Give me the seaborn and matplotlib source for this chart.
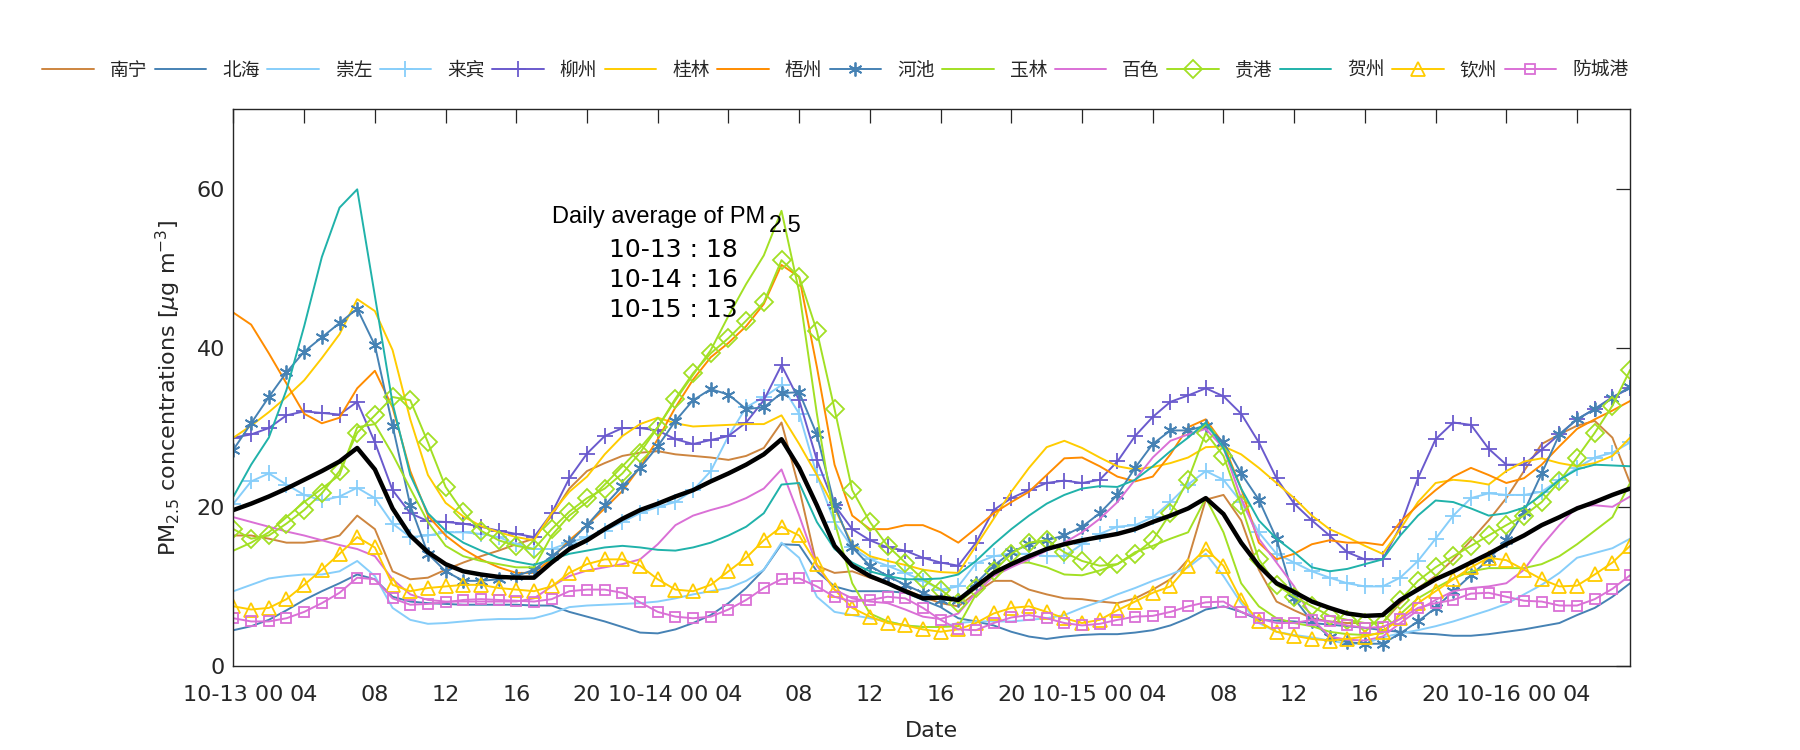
import numpy as np
import pandas as pd
import matplotlib
matplotlib.use("Agg")
import matplotlib.pyplot as plt
import seaborn as sns

hours = list(range(80))

nanning = [16.4,16.4,16.0,15.5,15.5,15.8,16.4,18.9,17.2,11.9,10.9,11.1,12.1,13.0,13.8,14.5,15.3,16.0,18.9,22.3,24.5,
           25.5,26.4,26.8,27.0,26.6,26.4,26.2,25.9,26.4,27.4,30.6,22.3,12.6,11.7,11.9,11.1,10.4,9.6,8.7,7.9,
           7.5,9.2,10.7,10.7,9.6,9.0,8.5,8.4,8.1,7.9,8.5,9.6,10.9,13.4,20.9,21.5,18.3,12.1,8.1,7.0,
           6.0,5.6,5.4,5.4,5.4,7.9,9.8,11.3,13.4,15.8,18.3,21.1,24.5,27.9,29.1,30.2,30.8,28.7,23.0]
beihai = [4.5,5.0,5.8,7.0,8.3,9.4,10.4,11.5,10.9,8.7,8.1,7.9,7.8,7.7,7.7,7.7,7.7,7.6,7.6,6.8,6.2,
          5.6,4.9,4.2,4.1,4.6,5.4,6.4,7.9,9.8,12.1,15.3,15.2,11.9,10.0,9.4,9.4,9.4,9.2,8.3,7.4,
          6.0,5.6,5.1,4.3,3.7,3.4,3.7,3.9,4.0,4.0,4.2,4.5,5.1,6.0,7.1,7.5,6.8,5.8,5.7,5.6,
          5.4,5.2,5.0,4.8,4.5,4.3,4.1,4.0,3.8,3.8,4.0,4.3,4.6,5.0,5.4,6.4,7.3,8.7,10.4]
chongzuo = [9.4,10.2,11.0,11.3,11.5,11.5,11.9,13.2,11.3,7.3,5.8,5.3,5.4,5.6,5.8,5.9,5.9,6.0,6.6,7.4,7.6,
            7.7,7.8,7.9,8.1,8.5,9.0,9.4,9.8,10.7,12.1,15.5,13.6,8.7,6.8,6.4,6.0,5.6,5.1,4.9,4.9,
            5.4,5.6,5.6,5.6,5.8,6.0,6.4,7.3,8.1,9.0,9.8,10.7,11.5,12.4,14.1,11.3,7.9,5.4,4.3,3.9,
            3.6,3.2,2.8,2.8,3.6,4.1,4.5,5.0,5.6,6.3,7.0,7.8,9.0,10.2,11.7,13.6,14.2,14.8,16.0]
laibin = [20.4,23.2,24.2,22.8,21.5,20.8,21.3,22.4,21.1,17.9,16.2,16.4,16.8,16.8,16.6,16.2,15.3,14.7,14.7,15.5,16.2,
          17.0,18.1,19.2,20.0,20.6,22.1,24.5,28.9,32.5,33.8,35.3,31.7,24.0,18.1,14.9,13.4,12.6,11.7,10.7,9.6,
          10.0,12.9,13.8,14.1,14.1,13.8,13.8,15.3,16.6,17.5,17.7,18.7,20.6,22.8,24.5,23.4,20.6,16.8,14.1,13.0,
          11.9,11.1,10.4,10.0,10.0,11.1,13.2,16.0,18.9,21.1,21.7,21.5,21.5,21.9,23.4,24.9,26.2,26.8,28.1]
liuzhou = [28.7,29.1,29.9,31.5,32.0,31.8,31.6,33.2,28.1,22.1,19.2,18.2,18.1,17.9,17.5,17.0,16.6,16.2,19.2,23.6,26.7,
           28.9,29.9,29.9,29.6,28.5,27.9,28.4,28.9,30.6,33.4,37.8,33.4,25.9,20.2,17.2,15.8,14.9,14.5,13.6,13.0,
           12.6,15.5,19.6,21.1,22.1,23.0,23.3,23.0,23.4,25.7,28.9,31.3,33.2,34.0,34.9,33.9,31.7,28.1,23.6,20.4,
           18.3,16.4,14.3,13.4,13.4,17.5,23.6,28.5,30.6,30.3,27.3,25.3,25.3,27.2,29.1,31.0,32.3,33.8,34.9]
guilin = [28.7,30.2,31.9,33.8,35.9,38.7,41.7,46.1,44.6,39.7,31.0,24.0,20.5,18.8,17.6,16.8,16.2,15.8,19.2,21.9,23.8,
          26.6,28.9,30.4,31.2,30.5,30.1,30.2,30.3,30.4,30.4,31.5,27.9,24.0,19.8,15.3,13.8,13.2,12.7,12.1,11.8,
          11.7,15.1,18.5,21.9,24.9,27.5,28.3,27.4,26.2,25.1,24.7,25.0,25.5,26.2,27.5,27.6,26.6,24.9,23.0,21.1,
          18.9,17.2,16.2,15.1,14.1,17.2,20.6,23.0,23.4,23.2,22.8,24.5,25.7,26.1,25.5,25.1,25.5,26.4,28.7]
wuzhou = [44.4,42.9,39.3,35.5,31.7,30.5,31.2,34.9,37.1,32.5,24.5,18.9,16.4,14.7,13.4,12.4,11.7,11.7,13.5,15.8,17.7,
          19.8,22.0,25.0,28.5,32.5,36.0,38.8,40.6,42.7,45.5,50.4,48.9,37.6,25.3,18.9,17.2,17.2,17.7,17.7,16.8,
          15.5,17.3,19.2,20.6,21.9,24.0,26.1,26.2,25.1,23.8,23.2,23.8,26.6,30.0,31.0,27.9,22.3,15.5,13.4,14.1,
          15.3,15.8,15.5,15.5,15.2,18.1,20.2,22.1,23.8,24.9,24.0,23.0,23.6,25.3,27.6,29.8,31.0,32.1,33.3]
hechi = [27.2,30.5,33.8,36.9,39.5,41.3,43.1,44.9,40.3,30.2,20.2,14.1,11.9,10.7,10.7,10.9,11.3,12.1,13.8,15.5,17.7,
         20.2,22.6,24.9,27.6,30.8,33.4,34.8,34.1,32.3,32.5,34.3,34.4,29.1,20.2,14.9,12.6,11.3,10.2,9.2,8.3,
         8.3,10.4,12.6,14.3,15.3,15.8,16.4,17.5,19.2,21.5,24.9,27.9,29.6,29.6,30.2,28.1,24.2,20.9,16.0,8.5,
         5.6,3.7,3.0,2.8,2.8,4.1,5.6,7.3,9.4,11.4,13.4,15.8,19.4,24.2,29.1,31.0,32.3,33.7,35.1]
yulin = [14.5,15.5,16.8,18.7,20.6,22.3,24.0,30.0,30.4,26.6,22.3,18.1,15.1,13.8,13.2,12.8,12.4,12.4,16.4,18.9,20.6,
         22.8,25.1,27.4,30.0,33.4,36.6,39.7,44.0,48.0,51.6,57.2,47.0,31.7,18.1,10.4,6.6,5.6,5.1,4.9,4.9,
         5.0,9.0,11.7,13.0,13.0,12.4,11.5,11.4,12.0,12.8,14.3,15.1,16.0,16.8,21.1,16.8,10.4,7.5,6.0,5.4,
         5.0,4.3,4.0,3.9,4.1,6.5,8.5,9.8,11.0,11.9,12.3,12.3,12.3,12.8,13.8,15.3,17.0,18.7,23.0]
baise = [18.7,18.1,17.5,16.9,16.4,15.8,15.2,14.7,13.8,10.9,9.0,8.3,8.1,8.1,8.1,8.1,8.1,8.5,10.0,11.3,12.0,
         12.4,12.8,13.4,15.3,17.7,18.9,19.6,20.2,21.1,22.3,24.7,18.9,12.6,9.6,8.5,8.1,7.9,7.1,6.2,5.9,
         6.6,9.2,11.3,12.4,13.4,14.5,15.5,16.8,18.5,20.6,23.4,26.2,28.3,29.1,29.8,27.4,21.1,16.0,13.0,10.0,
         6.0,3.7,3.3,3.2,3.7,5.4,7.0,8.3,9.4,9.8,10.0,10.4,12.1,15.1,17.7,20.0,20.2,20.0,21.3]
guigang = [17.2,16.0,16.4,17.9,19.6,21.7,24.5,29.3,31.5,33.8,33.4,28.1,22.5,19.3,17.0,15.8,15.1,14.7,17.2,19.4,21.1,
           22.3,24.2,26.8,30.0,33.6,36.8,39.3,41.2,43.4,45.7,51.0,48.9,42.1,32.3,22.1,18.1,15.1,13.0,10.9,9.6,
           7.9,9.8,11.9,14.1,15.5,15.8,14.3,13.2,12.6,12.8,14.1,15.8,19.2,23.4,29.3,26.4,20.2,13.4,10.2,8.7,
           7.5,6.3,5.8,5.4,5.4,8.3,10.7,12.4,13.8,15.1,16.4,17.7,18.9,20.6,23.2,26.2,29.3,32.7,37.2]
hezhou = [21.3,25.3,28.7,34.7,42.7,51.4,57.6,59.9,46.5,33.0,24.0,19.2,17.0,15.5,14.5,13.6,13.1,12.7,13.4,14.1,14.5,
          14.9,15.1,14.9,14.6,14.5,14.9,15.5,16.4,17.5,19.2,22.8,23.0,18.1,14.7,13.0,11.9,11.3,10.9,10.9,11.0,
          11.5,13.2,15.3,17.2,18.9,20.4,21.5,22.3,22.6,22.5,23.4,25.1,27.0,28.7,30.6,27.4,22.3,18.3,16.0,14.3,
          12.4,11.9,12.2,12.8,13.4,16.4,18.9,20.8,20.6,19.8,18.9,19.2,19.9,21.5,23.4,24.7,25.3,25.2,25.1]
qinzhou = [7.5,7.1,7.3,8.4,10.2,12.1,14.1,16.2,14.9,10.2,9.4,9.8,10.0,10.2,10.2,9.8,9.6,9.4,10.0,11.7,12.8,
           13.4,13.4,12.6,10.9,9.6,9.4,10.2,11.9,13.6,15.8,17.5,16.4,12.8,9.6,7.3,6.2,5.4,5.1,4.6,4.3,
           4.6,5.4,6.6,7.3,7.5,6.8,6.0,5.4,5.8,7.0,8.1,9.2,10.0,12.6,14.7,12.6,8.3,5.6,4.3,3.8,
           3.4,3.2,3.4,3.7,4.3,6.0,7.9,9.4,10.9,12.4,13.6,13.3,12.1,10.9,10.0,10.1,11.5,13.0,15.1]
fangchenggang = [6.0,5.6,5.6,6.0,6.8,7.9,9.2,11.1,10.9,8.5,7.7,7.8,8.0,8.3,8.4,8.3,8.2,8.1,8.4,9.4,9.6,
                 9.6,9.2,8.0,6.8,6.2,6.0,6.2,7.1,8.3,9.8,10.9,11.0,10.0,8.7,8.1,8.3,8.7,8.5,7.3,5.8,
                 4.6,4.5,5.4,6.1,6.4,6.0,5.4,5.1,5.3,5.8,6.2,6.3,6.8,7.5,8.0,8.1,6.8,6.0,5.4,5.4,
                 5.8,5.6,5.1,4.8,4.9,5.9,7.3,7.9,8.3,9.1,9.2,8.7,8.2,8.1,7.6,7.6,8.4,9.7,11.4]
average = [19.6,20.4,21.3,22.3,23.4,24.5,25.7,27.4,24.7,19.8,16.4,14.3,12.8,11.9,11.5,11.2,11.1,11.1,13.0,14.7,15.8,
           17.2,18.5,19.6,20.4,21.3,22.1,23.2,24.2,25.3,26.6,28.5,24.9,20.2,15.1,12.6,11.3,10.4,9.4,8.5,8.6,
           8.3,10.0,11.7,12.8,13.8,14.7,15.3,15.8,16.2,16.6,17.2,18.1,18.9,19.8,21.1,19.1,15.5,12.6,10.4,9.3,
           8.1,7.3,6.6,6.3,6.4,8.3,9.6,10.9,11.9,13.0,14.1,15.3,16.4,17.7,18.7,19.8,20.6,21.5,22.3]

city_names = ["南宁", "北海", "崇左", "来宾", "柳州", "桂林", "梧州", "河池",
              "玉林", "百色", "贵港", "贺州", "钦州", "防城港"]
city_values = [nanning, beihai, chongzuo, laibin, liuzhou, guilin, wuzhou, hechi,
               yulin, baise, guigang, hezhou, qinzhou, fangchenggang]

daily_days = ["10-13", "10-14", "10-15"]
daily_means = [18, 16, 13]

tick_hours = list(range(0, 80, 4))
tick_labels = [("10-%d 00" % (13 + h // 24)) if h % 24 == 0 else "%02d" % (h % 24) for h in tick_hours]

# styles
colors = ["#CD853F", "#4682B4", "#87CEFA", "#87CEFA", "#6A5ACD", "#FFCC00", "#FF8C00", "#4682B4",
          "#A2E024", "#DA70D6", "#A2E024", "#20B2AA", "#FFCC00", "#DA70D6"]
markers = [None, None, None, "+", "+", None, None, (6, 2, 0),
           None, None, "D", None, "^", "s"]
msizes = [0, 0, 0, 12, 12, 0, 0, 10, 0, 0, 9, 0, 10, 7]

sns.set_theme(style="white")
plt.rcParams["font.family"] = ["DejaVu Sans", "Noto Sans CJK SC"]
plt.rcParams["mathtext.fontset"] = "dejavusans"

fig = plt.figure(figsize=(18, 7.5), dpi=100)
ax = fig.add_axes([0.1297, 0.112, 0.7759, 0.7427])

for name, vals, c, m, ms in zip(city_names, city_values, colors, markers, msizes):
    df = pd.DataFrame({"hour": hours, "v": vals})
    kw = dict(color=c, linewidth=1.4, label=name)
    if m is not None:
        kw.update(marker=m, markersize=ms, markerfacecolor="none",
                  markeredgecolor=c, markeredgewidth=1.3)
    sns.lineplot(data=df, x="hour", y="v", ax=ax, **kw)

sns.lineplot(x=hours, y=average, ax=ax, color="black", linewidth=3.2, label="_nolegend_")

ax.set_xlim(0, 79)
ax.set_ylim(0, 70)
ax.set_xticks(tick_hours)
ax.set_xticklabels(tick_labels)
ax.set_yticks([0, 20, 40, 60])
ax.tick_params(axis="both", which="both", direction="in", length=10, width=0.9,
               top=True, right=True, labelsize=16, colors="#262626")
ax.tick_params(axis="x", pad=14)
ax.tick_params(axis="y", pad=6)
for s in ax.spines.values():
    s.set_color("#262626")
    s.set_linewidth(1.0)
ax.set_xlabel("Date", fontsize=16, color="#262626", labelpad=11)
ax.set_ylabel(r"PM$_{2.5}$ concentrations [$\mu$g m$^{-3}$]", fontsize=16, color="#262626", labelpad=10)

t_main = ax.text(18.0, 56.4, "Daily average of PM", fontsize=17, va="center", ha="left",
                 color="black", family=["Liberation Sans", "DejaVu Sans"])
for i, (d, v) in enumerate(zip(daily_days, daily_means)):
    ax.text(21.25, 52.3 - 3.8 * i, "%s : %d" % (d, v), fontsize=18, va="center", ha="left", color="black")

handles, labels = ax.get_legend_handles_labels()
leg = fig.legend(handles, labels, loc="center", bbox_to_anchor=(0.464, 0.906), ncol=14,
                 frameon=False, fontsize=13.5, handlelength=2.75, handletextpad=0.85,
                 columnspacing=0.4, numpoints=1)
if ax.get_legend() is not None:
    ax.get_legend().remove()

fig.canvas.draw()
bb = t_main.get_window_extent()
ax.annotate("2.5", xy=(bb.x1 + 4, bb.y0 + 2), xycoords="figure pixels",
            fontsize=17, va="center", ha="left", color="black",
            family=["Liberation Sans", "DejaVu Sans"])

fig.savefig("out.png", dpi=100, facecolor="white")
